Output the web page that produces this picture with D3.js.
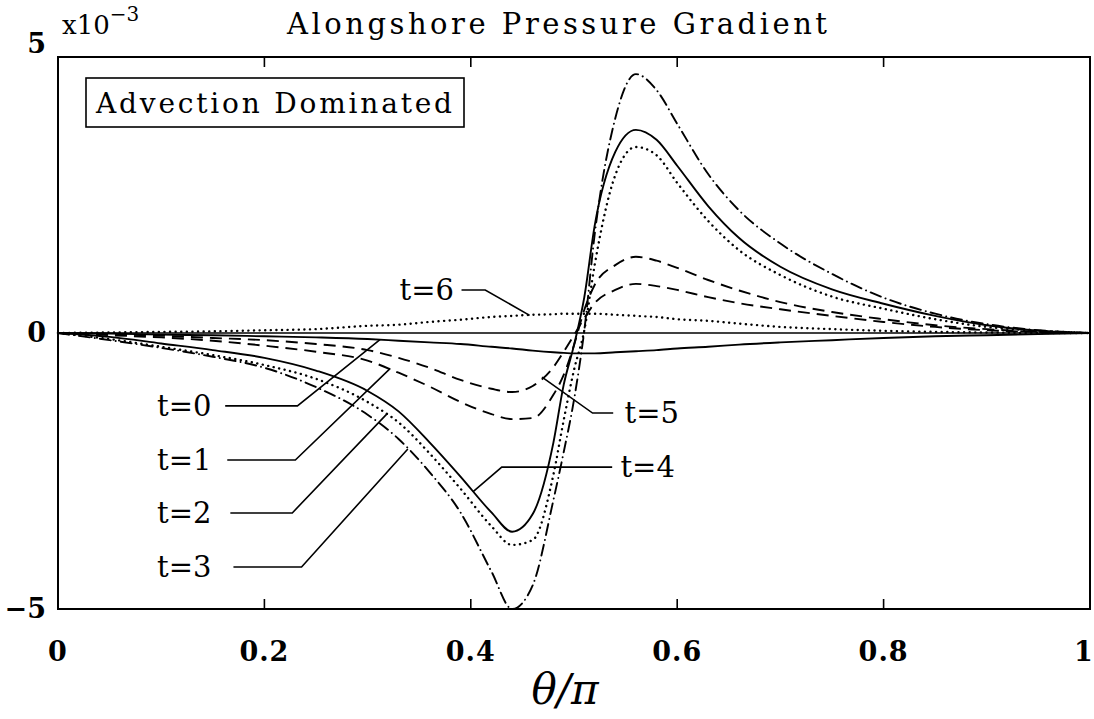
<!DOCTYPE html>
<html><head><meta charset="utf-8">
<script src="https://cdn.jsdelivr.net/npm/d3@7"></script>
<style>
body{margin:0;background:#fff}
svg{display:block;background:#fff}
text{font-family:"DejaVu Serif","Liberation Serif",serif;fill:#000}
</style>
</head><body>
<svg id="chart" width="1094" height="719"></svg>
<script>
// ---- data (values in units of 1e-3) ----
const theta = [0,0.05,0.1,0.15,0.2,0.25,0.3,0.33,0.36,0.39,0.42,0.44,0.46,0.48,0.49,0.5,0.51,0.52,0.54,0.56,0.58,0.6,0.63,0.66,0.7,0.75,0.8,0.85,0.9,0.95,1.0];
const t0 = [0,-0.01,-0.03,-0.04,-0.06,-0.08,-0.11,-0.14,-0.17,-0.2,-0.25,-0.28,-0.32,-0.35,-0.36,-0.37,-0.37,-0.37,-0.35,-0.33,-0.31,-0.28,-0.25,-0.21,-0.17,-0.13,-0.09,-0.06,-0.04,-0.02,0];
const t1 = [0,-0.04,-0.08,-0.14,-0.23,-0.34,-0.50,-0.72,-0.97,-1.25,-1.47,-1.56,-1.54,-1.12,-0.76,-0.22,0.42,0.87,1.23,1.38,1.31,1.18,0.96,0.77,0.56,0.38,0.25,0.14,0.07,0.02,0];
const t2 = [0,-0.11,-0.25,-0.40,-0.58,-0.83,-1.25,-1.62,-2.18,-2.82,-3.50,-3.84,-3.75,-2.57,-1.58,-0.67,0.05,1.23,2.86,3.37,3.22,2.72,2.03,1.50,1.05,0.66,0.44,0.25,0.11,0.04,0];
const t3 = [0,-0.13,-0.27,-0.43,-0.63,-0.98,-1.48,-1.92,-2.52,-3.25,-4.32,-5.0,-4.57,-3.03,-2.16,-1.21,0.05,1.78,3.89,4.69,4.40,3.79,2.88,2.22,1.62,1.07,0.64,0.35,0.16,0.05,0];
const t4 = [0,-0.07,-0.19,-0.31,-0.45,-0.68,-1.05,-1.42,-1.98,-2.60,-3.25,-3.60,-3.28,-1.99,-0.94,-0.22,0.65,1.94,3.28,3.68,3.50,3.03,2.30,1.72,1.20,0.79,0.53,0.31,0.14,0.04,0];
const t5 = [0,-0.02,-0.05,-0.09,-0.13,-0.20,-0.31,-0.45,-0.63,-0.85,-1.01,-1.07,-0.96,-0.62,-0.34,-0.04,0.27,0.54,0.78,0.89,0.85,0.78,0.65,0.54,0.43,0.31,0.20,0.11,0.05,0.02,0];
const t6 = [0,0.01,0.02,0.03,0.05,0.07,0.13,0.15,0.20,0.24,0.29,0.31,0.33,0.34,0.35,0.35,0.35,0.35,0.33,0.31,0.29,0.25,0.22,0.17,0.11,0.07,0.04,0.02,0.01,0.0,0];

const seriesNames = ["t=0","t=1","t=2","t=3","t=4","t=5","t=6"];
const seriesValues = [t0,t1,t2,t3,t4,t5,t6];
const seriesStyle = ["solid","dashed","dotted","dashdot","solid","dashed","dotted"];

const xTicks = [0,0.2,0.4,0.6,0.8,1];
const xTickLabels = ["0","0.2","0.4","0.6","0.8","1"];
const yTicks = [-5,0,5];
const yTickLabels = ["\u22125","0","5"];

const titleText = "Alongshore Pressure Gradient";
const legendText = "Advection Dominated";
const xLabelText = "\u03B8/\u03C0";

// label text anchor [theta, value] and leader polyline points
const labelPos = [[0.096,-1.32],[0.096,-2.30],[0.096,-3.26],[0.096,-4.24],[0.545,-2.43],[0.549,-1.45],[0.331,0.78]];
const leaders = [
  [[0.162,-1.32],[0.232,-1.32],[0.312,-0.12]],
  [[0.164,-2.30],[0.230,-2.30],[0.322,-0.64]],
  [[0.167,-3.26],[0.227,-3.26],[0.319,-1.46]],
  [[0.170,-4.24],[0.236,-4.24],[0.339,-2.10]],
  [[0.537,-2.43],[0.430,-2.43],[0.402,-2.88]],
  [[0.538,-1.45],[0.518,-1.45],[0.469,-0.80]],
  [[0.391,0.78],[0.414,0.78],[0.457,0.32]]
];

// ---- drawing ----
const svg = d3.select("#chart");
const L = 58, R = 1090, T = 57, B = 609;
const x = d3.scaleLinear().domain([0,1]).range([L,R]);
const y = d3.scaleLinear().domain([-5,5]).range([B,T]);

const dash = {solid:null, dashed:"12,7", dotted:"0.1,5.5", dashdot:"11,5,0.1,5"};

// zero line
svg.append("line").attr("x1",x(0)).attr("x2",x(1)).attr("y1",y(0)).attr("y2",y(0))
  .attr("stroke","#000").attr("stroke-width",1.6);

const line = d3.line().x((d,i)=>x(theta[i])).y(d=>y(d)).curve(d3.curveMonotoneX);
seriesValues.forEach((vals,k)=>{
  const st = seriesStyle[k];
  svg.append("path").datum(vals).attr("d",line)
    .attr("fill","none").attr("stroke","#000")
    .attr("stroke-width", st==="dotted"?2.4:1.9)
    .attr("stroke-linecap", (st==="dotted"||st==="dashdot")?"round":"butt")
    .attr("stroke-linejoin","round")
    .attr("stroke-dasharray", dash[st]);
});

// frame
svg.append("rect").attr("x",L).attr("y",T).attr("width",R-L).attr("height",B-T)
  .attr("fill","none").attr("stroke","#000").attr("stroke-width",2);

// ticks (inward)
const tl = 10;
xTicks.slice(1,-1).forEach(v=>{
  svg.append("line").attr("x1",x(v)).attr("x2",x(v)).attr("y1",B).attr("y2",B-tl).attr("stroke","#000").attr("stroke-width",1.6);
  svg.append("line").attr("x1",x(v)).attr("x2",x(v)).attr("y1",T).attr("y2",T+tl).attr("stroke","#000").attr("stroke-width",1.6);
});
svg.append("line").attr("x1",L).attr("x2",L+tl).attr("y1",y(0)).attr("y2",y(0)).attr("stroke","#000").attr("stroke-width",1.6);
svg.append("line").attr("x1",R).attr("x2",R-tl).attr("y1",y(0)).attr("y2",y(0)).attr("stroke","#000").attr("stroke-width",1.6);

// tick labels
xTicks.forEach((v,i)=>{
  svg.append("text").attr("x",i===xTicks.length-1?x(v)-6:x(v)).attr("y",B+52).attr("text-anchor","middle")
    .attr("font-size",27).attr("font-weight","bold").attr("letter-spacing",1).text(xTickLabels[i]);
});
yTicks.forEach((v,i)=>{
  svg.append("text").attr("x",L-12).attr("y",y(v)+(v===5?-4:9)).attr("text-anchor","end")
    .attr("font-size",27).attr("font-weight","bold").text(yTickLabels[i]);
});

// exponent
const ex = svg.append("text").attr("x",62).attr("y",34).attr("font-size",26);
ex.append("tspan").text("x10");
ex.append("tspan").attr("dy",-13).attr("font-size",20).text("\u22123");

// title
svg.append("text").attr("x",287).attr("y",34).attr("font-size",29)
  .attr("textLength",540).attr("lengthAdjust","spacing").text(titleText);

// legend box
svg.append("rect").attr("x",86).attr("y",78).attr("width",378).attr("height",49)
  .attr("fill","#fff").attr("stroke","#000").attr("stroke-width",1.6);
svg.append("text").attr("x",96).attr("y",113).attr("font-size",28)
  .attr("textLength",356).attr("lengthAdjust","spacing").text(legendText);

// x label
svg.append("text").attr("x",565).attr("y",704).attr("text-anchor","middle")
  .attr("font-size",42).attr("font-style","italic").attr("font-family","Liberation Serif").text(xLabelText);

// series labels + leaders
const lline = d3.line().x(d=>x(d[0])).y(d=>y(d[1]));
leaders.forEach(pts=>{
  svg.append("path").attr("d",lline(pts)).attr("fill","none").attr("stroke","#000").attr("stroke-width",1.6);
});
seriesNames.forEach((n,k)=>{
  svg.append("text").attr("x",x(labelPos[k][0])).attr("y",y(labelPos[k][1])+10)
    .attr("font-size",29).text(n);
});
</script>
</body></html>
